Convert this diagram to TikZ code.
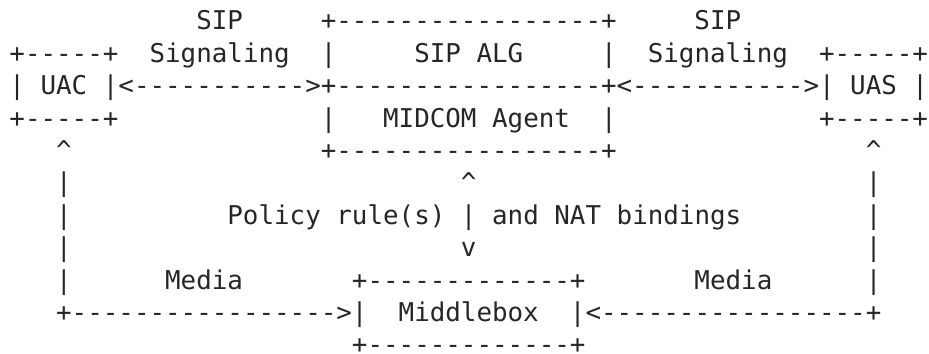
\documentclass[tikz,border=0pt]{standalone}
\usepackage{fontspec}
\setmonofont{DejaVu Sans Mono}

\begin{document}
\begin{tikzpicture}[x=11.6775pt,y=-24.3pt,
  txt/.style={anchor=base west,inner sep=0pt,text=black!85,
    font=\ttfamily\fontsize{19.4pt}{24.3pt}\selectfont}]
\useasboundingbox (-0.59,0.074) rectangle (59.08,10.97);

\node[txt] (sipl) at (12,1) {SIP};
\node[txt] (algtop) at (20,1) {+-----------------+};
\node[txt] (sipr) at (44,1) {SIP};

\node[txt] (uactop) at (0,2) {+-----+};
\node[txt] (sigl) at (9,2) {Signaling};
\node[txt] (algl) at (20,2) {|};
\node[txt] (alg) at (26,2) {SIP ALG};
\node[txt] (algr) at (38,2) {|};
\node[txt] (sigr) at (41,2) {Signaling};
\node[txt] (uastop) at (52,2) {+-----+};

\node[txt] (uac) at (0,3) {| UAC |};
\node[txt] (arrl) at (7,3) {<----------->};
\node[txt] (algmid) at (20,3) {+-----------------+};
\node[txt] (arrr) at (39,3) {<----------->};
\node[txt] (uas) at (52,3) {| UAS |};

\node[txt] (uacbot) at (0,4) {+-----+};
\node[txt] (agentl) at (20,4) {|};
\node[txt] (agent) at (24,4) {MIDCOM Agent};
\node[txt] (agentr) at (38,4) {|};
\node[txt] (uasbot) at (52,4) {+-----+};

\node[txt] (upl) at (3,5) {\textasciicircum};
\node[txt] (algbot) at (20,5) {+-----------------+};
\node[txt] (upr) at (55,5) {\textasciicircum};

\node[txt] (barla) at (3,6) {|};
\node[txt] (upm) at (29,6) {\textasciicircum};
\node[txt] (barra) at (55,6) {|};

\node[txt] (barlb) at (3,7) {|};
\node[txt] (policy) at (14,7) {Policy rule(s) | and NAT bindings};
\node[txt] (barrb) at (55,7) {|};

\node[txt] (barlc) at (3,8) {|};
\node[txt] (downm) at (29,8) {v};
\node[txt] (barrc) at (55,8) {|};

\node[txt] (barld) at (3,9) {|};
\node[txt] (medial) at (10,9) {Media};
\node[txt] (mbtop) at (22,9) {+-------------+};
\node[txt] (mediar) at (44,9) {Media};
\node[txt] (barrd) at (55,9) {|};

\node[txt] (arrml) at (3,10) {+----------------->};
\node[txt] (mbl) at (22,10) {|};
\node[txt] (mb) at (25,10) {Middlebox};
\node[txt] (mbr) at (36,10) {|};
\node[txt] (arrmr) at (37,10) {<-----------------+};

\node[txt] (mbbot) at (22,11) {+-------------+};
\end{tikzpicture}
\end{document}
